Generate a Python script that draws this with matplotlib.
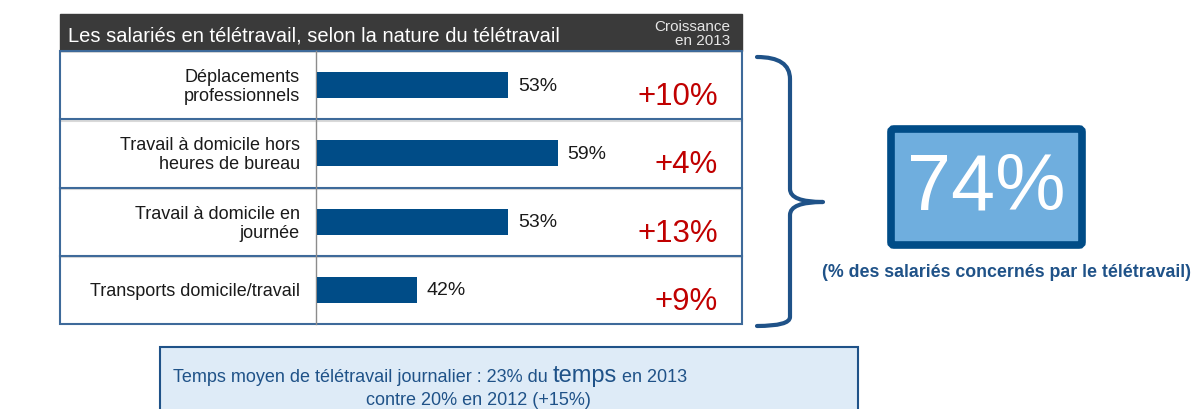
import matplotlib.pyplot as plt
from matplotlib.patches import Rectangle, FancyBboxPatch, PathPatch
from matplotlib.path import Path

# Data
categories = ["Déplacements\nprofessionnels",
              "Travail à domicile hors\nheures de bureau",
              "Travail à domicile en\njournée",
              "Transports domicile/travail"]
shares = [53, 59, 53, 42]
growth = ["+10%", "+4%", "+13%", "+9%"]
total_share = "74%"

plt.rcParams['font.family'] = ['Liberation Sans', 'DejaVu Sans']

DARK_BLUE = "#004C87"
LINE_BLUE = "#3E6A9A"
RED = "#C00000"
TEXT_BLUE = "#1F5288"

fig = plt.figure(figsize=(11.94, 4.10), dpi=100)

# overlay in pixel coordinates
ov = fig.add_axes([0, 0, 1, 1])
ov.set_xlim(0, 1194)
ov.set_ylim(410, 0)
ov.axis("off")

# header
ov.add_patch(Rectangle((60, 15), 682, 37, color="#3A3A3A", zorder=1))
ov.text(68, 36, "Les salariés en télétravail, selon la nature du télétravail",
        color="white", fontsize=14.5, va="center", ha="left")
ov.text(730, 34, "Croissance\nen 2013", color="#E6E6E6", fontsize=11,
        va="center", ha="right", linespacing=1.05)

# table
top, bottom, left, right = 52, 325, 60, 742
row_h = (bottom - top) / len(categories)
ov.add_patch(Rectangle((left, top), right - left, bottom - top, fill=False,
                       edgecolor=LINE_BLUE, lw=1.5, zorder=3))
for i in range(1, len(categories)):
    y = top + i * row_h
    ov.plot([left, right], [y + 1.5, y + 1.5], color="#D9D9D9", lw=1.5, zorder=2)
    ov.plot([left, right], [y, y], color=LINE_BLUE, lw=1.5, zorder=3)
ov.plot([316, 316], [top, bottom], color="#8C8C8C", lw=1, zorder=3)

for i, (cat, g) in enumerate(zip(categories, growth)):
    yc = top + (i + 0.5) * row_h
    ov.text(300, yc + 1, cat, ha="right", va="center", fontsize=13,
            color="#1A1A1A", linespacing=1.15)
    ov.text(718, yc + 19, g, ha="right", va="baseline", fontsize=22.5,
            color=RED)

# bars
bx = fig.add_axes([317 / 1194, (410 - bottom) / 410, (right - 317) / 1194,
                   (bottom - top) / 410])
bx.patch.set_alpha(0)
ypos = list(range(len(categories)))
bx.barh(ypos, shares, left=0, height=0.38, color=DARK_BLUE)
bx.set_xlim(30, 81.2)
bx.set_ylim(len(categories) - 0.5, -0.5)
for y, v in zip(ypos, shares):
    bx.text(v + 1.2, y, f"{v}%", va="center", ha="left", fontsize=14,
            color="#1A1A1A")
bx.axis("off")

# brace
verts = [(757, 58), (790, 58), (790, 80),
         (790, 190),
         (790, 203), (823, 203),
         (790, 203), (790, 216),
         (790, 318),
         (790, 327), (757, 327)]
codes = [Path.MOVETO, Path.CURVE3, Path.CURVE3,
         Path.LINETO,
         Path.CURVE3, Path.CURVE3,
         Path.CURVE3, Path.CURVE3,
         Path.LINETO,
         Path.CURVE3, Path.CURVE3]
ov.add_patch(PathPatch(Path(verts, codes), fill=False, edgecolor=TEXT_BLUE,
                       lw=3, capstyle="round", joinstyle="round"))

# big figure box
ov.add_patch(FancyBboxPatch((891, 130), 191, 116,
                            boxstyle="round,pad=0,rounding_size=3",
                            facecolor="#6FAEDE", edgecolor=DARK_BLUE, lw=5.5))
ov.text(986, 189, total_share, ha="center", va="center", fontsize=57,
        color="white")
ov.text(1007, 273, "(% des salariés concernés par le télétravail)",
        ha="center", va="center", fontsize=12.8, fontweight="bold",
        color=TEXT_BLUE)

# bottom note
ov.add_patch(Rectangle((160, 348), 698, 70, facecolor="#DEEBF7",
                       edgecolor=TEXT_BLUE, lw=1.5, zorder=1))
fig.canvas.draw()
renderer = fig.canvas.get_renderer()
inv = ov.transData.inverted()
x = 173
for txt, size in [("Temps moyen de télétravail journalier : 23% du ", 13),
                  ("temps", 17), (" en 2013", 13)]:
    t = ov.text(x, 382, txt, ha="left", va="baseline", fontsize=size,
                color=TEXT_BLUE)
    bb = t.get_window_extent(renderer)
    x = inv.transform((bb.x1, bb.y0))[0]
ov.text(478, 405, "contre 20% en 2012 (+15%)", ha="center", va="baseline",
        fontsize=13, color=TEXT_BLUE)

fig.savefig("out.png", dpi=100)
